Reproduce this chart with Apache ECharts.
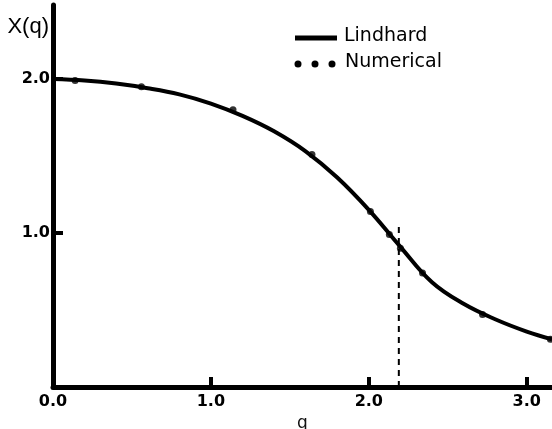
<!DOCTYPE html>
<html><head><meta charset="utf-8">
<script src="https://cdn.jsdelivr.net/npm/echarts@6/dist/echarts.min.js"></script>
<style>html,body{margin:0;padding:0;background:#fff}#c{width:552px;height:429px}</style>
</head><body><div id="c"></div>
<script>
// Lindhard curve
const lindhardQ = [0, 0.2, 0.4, 0.6, 0.8, 1.0, 1.2, 1.4, 1.6, 1.8, 2.0, 2.2, 2.4, 2.6, 2.8, 3.0, 3.16];
const lindhardChi = [2.00, 1.99, 1.97, 1.94, 1.90, 1.84, 1.76, 1.66, 1.53, 1.36, 1.15, 0.91, 0.68, 0.54, 0.44, 0.36, 0.31];
// Numerical points
const numQ = [0.14, 0.56, 1.14, 1.64, 2.01, 2.13, 2.20, 2.34, 2.72, 3.15];
const numChi = [1.99, 1.95, 1.80, 1.51, 1.14, 0.99, 0.90, 0.74, 0.47, 0.31];
// Dashed marker at 2kF
const dashQ = [2.19, 2.19];
const dashChi = [0, 1.07];
const xTicks = ['0.0', '1.0', '2.0', '3.0'];
const yTicks = ['', '1.0', '2.0'];
const legendNames = ['Lindhard', 'Numerical'];

const zip = (a, b) => a.map((v, i) => [v, b[i]]);
const chart = echarts.init(document.getElementById('c'));
const font = 'DejaVu Sans';
chart.setOption({
  animation: false,
  grid: {left: 53, right: 0, top: 5, bottom: 42, containLabel: false, outerBoundsMode: 'none'},
  xAxis: {
    type: 'value', min: 0, max: 3.16, interval: 1,
    name: 'q', nameLocation: 'middle', nameGap: 28,
    nameTextStyle: {fontFamily: font, fontSize: 17, color: '#111'},
    axisLine: {lineStyle: {color: '#000', width: 5}},
    axisTick: {inside: true, length: 10, lineStyle: {color: '#000', width: 4}},
    axisLabel: {margin: 7, showMaxLabel: false, fontFamily: font, fontWeight: 'bold', fontSize: 16, color: '#000',
      formatter: v => xTicks[Math.round(v)] || ''},
    splitLine: {show: false}
  },
  yAxis: {
    type: 'value', min: 0, max: 2.48, interval: 1,
    name: 'X(q)', nameLocation: 'end', nameGap: -22,
    nameTextStyle: {fontFamily: 'Liberation Sans', fontSize: 22, color: '#000', align: 'right', verticalAlign: 'middle', padding: [0, 4, 0, 0]},
    axisLine: {onZero: false, lineStyle: {color: '#000', width: 5}},
    axisTick: {inside: true, length: 10, lineStyle: {color: '#000', width: 4}},
    axisLabel: {margin: 3, showMaxLabel: false, fontFamily: font, fontWeight: 'bold', fontSize: 16, color: '#000',
      formatter: v => yTicks[Math.round(v)] || ''},
    splitLine: {show: false}
  },
  series: [
    {name: legendNames[0], type: 'line', data: zip(lindhardQ, lindhardChi), smooth: 0.4, showSymbol: false,
     lineStyle: {color: '#000', width: 4}, z: 3},
    {name: legendNames[1], type: 'scatter', data: zip(numQ, numChi), symbol: 'circle', symbolSize: 7,
     itemStyle: {color: '#000'}, z: 4},
    {name: 'dash', type: 'line', data: zip(dashQ, dashChi), showSymbol: false,
     lineStyle: {color: '#000', width: 2, type: [6, 5]}, z: 2}
  ],
  graphic: [
    {type: 'line', shape: {x1: 295, y1: 38, x2: 337, y2: 38}, style: {stroke: '#000', lineWidth: 5}},
    {type: 'circle', shape: {cx: 298, cy: 64, r: 3.5}, style: {fill: '#000'}},
    {type: 'circle', shape: {cx: 315, cy: 64, r: 3.5}, style: {fill: '#000'}},
    {type: 'circle', shape: {cx: 332, cy: 64, r: 3.5}, style: {fill: '#000'}},
    {type: 'text', left: 344, top: 27, style: {text: legendNames[0], font: '19px "DejaVu Sans"', fill: '#000'}},
    {type: 'text', left: 345, top: 53, style: {text: legendNames[1], font: '19px "DejaVu Sans"', fill: '#000'}}
  ]
});
</script></body></html>
